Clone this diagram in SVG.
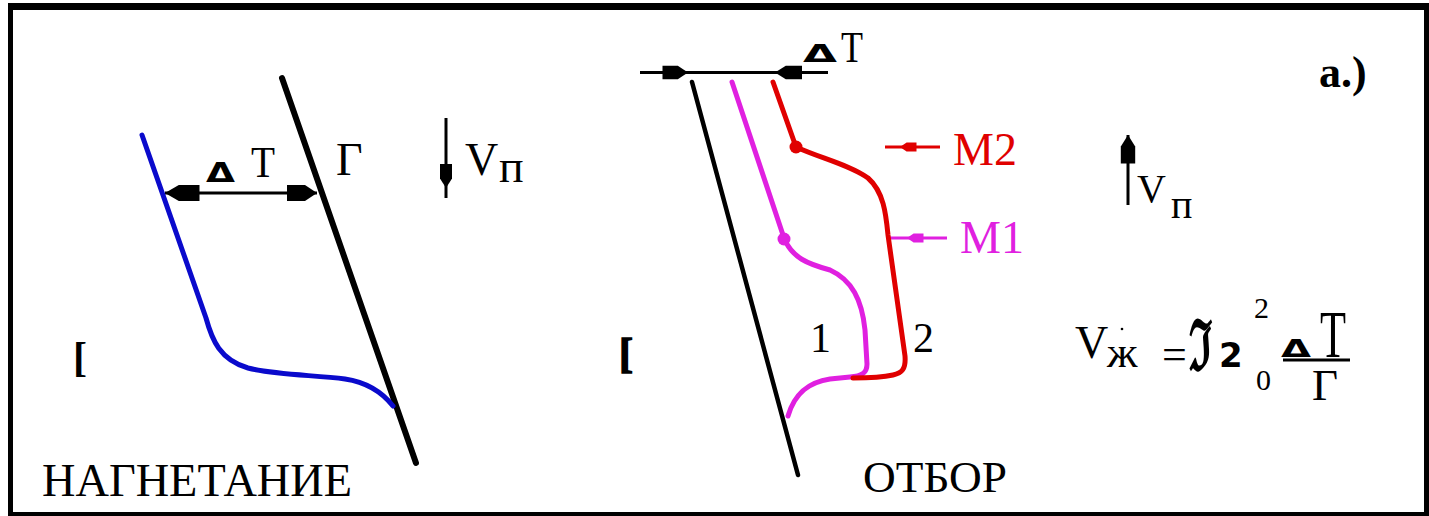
<svg xmlns="http://www.w3.org/2000/svg" width="1429" height="516" viewBox="0 0 1429 516">
<style>
.t{fill:#000}
.red{fill:#e00000}
.mag{fill:#e020e0}
.ln{fill:none;stroke-linecap:round;stroke-linejoin:round}
</style>
<defs>
<path id="head" d="M0,0 L-12,-8 L-30,-8 L-30,8 L-12,8 Z"/>
</defs>
<rect width="1429" height="516" fill="#fff"/>
<g id="frame" stroke="#000">
<line x1="8" y1="6.5" x2="1429" y2="6.5" stroke-width="7"/>
<line x1="10.5" y1="4" x2="10.5" y2="516" stroke-width="5"/>
<line x1="8" y1="514" x2="1429" y2="514" stroke-width="4"/>
<line x1="1426.5" y1="4" x2="1426.5" y2="516" stroke-width="5"/>
</g>
<g id="connectors">
<line x1="165" y1="193" x2="317" y2="193" stroke="#000" stroke-width="3"/>
<use href="#head" transform="translate(165,193) rotate(180) scale(1.15,1)"/>
<use href="#head" transform="translate(317,193) scale(1,1)"/>
<line x1="446" y1="118" x2="446" y2="198" stroke="#000" stroke-width="3"/>
<use href="#head" transform="translate(446,188) rotate(90) scale(0.8,0.75)"/>
<line x1="640" y1="72.5" x2="828" y2="72.5" stroke="#000" stroke-width="3"/>
<use href="#head" transform="translate(688,72.5) scale(0.85,0.85)"/>
<use href="#head" transform="translate(775,72.5) rotate(180) scale(0.9,0.85)"/>
<line x1="1128" y1="135" x2="1128" y2="205" stroke="#000" stroke-width="3"/>
<use href="#head" transform="translate(1128,135) rotate(-90) scale(0.95,0.9)"/>
<line x1="885" y1="147" x2="940" y2="147" stroke="#e00000" stroke-width="3"/>
<use href="#head" transform="translate(900,147) rotate(180) scale(0.55,0.55)" fill="#e00000"/>
<line x1="890" y1="238" x2="947" y2="238" stroke="#e020e0" stroke-width="3"/>
<use href="#head" transform="translate(907,238) rotate(180) scale(0.55,0.55)" fill="#e020e0"/>
</g>
<g id="left-panel" font-family="'Liberation Serif','DejaVu Serif','Times New Roman',serif">
<line x1="282" y1="78" x2="416" y2="463" stroke="#000" stroke-width="6" stroke-linecap="round"/>
<path class="ln" stroke="#0a0acc" stroke-width="5" d="M142,135 L206,318 C212,340 220,360 248,368 C275,375 315,375 345,379 C365,382 382,392 393,406"/>
<text class="t" x="206" y="182" font-size="27" font-weight="bold" textLength="29" lengthAdjust="spacingAndGlyphs" font-family="'DejaVu Sans',sans-serif">Δ</text>
<text class="t" x="251" y="177" font-size="44" textLength="24" lengthAdjust="spacingAndGlyphs">T</text>
<text class="t" x="336" y="175" font-size="46">Г</text>
<text class="t" x="465" y="175" font-size="46">V</text>
<text class="t" x="499" y="182" font-size="46">п</text>
<text class="t" x="73" y="371" font-size="42" font-weight="bold">[</text>
<text class="t" x="42" y="496" font-size="46" textLength="310" lengthAdjust="spacingAndGlyphs">НАГНЕТАНИЕ</text>
</g>
<g id="right-panel" font-family="'Liberation Serif','DejaVu Serif','Times New Roman',serif">
<line x1="692" y1="82" x2="798" y2="475" stroke="#000" stroke-width="4.5" stroke-linecap="round"/>
<path class="ln" stroke="#e020e0" stroke-width="5" d="M732,82 L784,238 C792,258 808,264 830,270 C852,280 862,300 865,330 L867,364 C867,373 862,376 850,377 L830,379 C810,382 795,392 788,416"/>
<path class="ln" stroke="#e00000" stroke-width="5" d="M773,82 L796,147 C820,158 850,165 868,178 C884,192 886,215 888,235 L905,356 C906,369 902,373 893,375 C880,378 866,378 853,378"/>
<circle cx="796" cy="147" r="6.5" fill="#e00000"/>
<circle cx="784" cy="239" r="6.5" fill="#e020e0"/>
<text class="t" x="803" y="62" font-size="24" font-weight="bold" textLength="34" lengthAdjust="spacingAndGlyphs" font-family="'DejaVu Sans',sans-serif">Δ</text>
<text class="t" x="841" y="62" font-size="44" textLength="22" lengthAdjust="spacingAndGlyphs">T</text>
<text class="t red" x="953" y="165" font-size="46">M2</text>
<text class="t mag" x="960" y="253" font-size="46">M1</text>
<text class="t" x="810" y="352" font-size="42">1</text>
<text class="t" x="913" y="352" font-size="42">2</text>
<text class="t" x="619" y="367" font-size="42" font-weight="900" stroke="#000" stroke-width="1.5">[</text>
<text class="t" x="863" y="492" font-size="45" textLength="144" lengthAdjust="spacingAndGlyphs">ОТБОР</text>
<text class="t" x="1137" y="202" font-size="40">V</text>
<text class="t" x="1171" y="218" font-size="40">п</text>
<text class="t" x="1319" y="87" font-size="44" font-weight="bold">a.)</text>
</g>
<g id="formula" font-family="'Liberation Serif','DejaVu Serif','Times New Roman',serif">
<text class="t" x="1075" y="358" font-size="46">V</text>
<text class="t" x="1107" y="367" font-size="44">ж</text>
<circle cx="1122" cy="329" r="1.3" fill="#000"/>
<text class="t" x="1162" y="369" font-size="44">=</text>
<text class="t" x="1189" y="370" font-size="70" font-weight="bold" font-family="'DejaVu Serif',serif" textLength="23" lengthAdjust="spacingAndGlyphs">ℑ</text>
<text class="t" x="1219" y="367" font-size="34" font-weight="bold" font-family="'DejaVu Sans',sans-serif">2</text>
<text class="t" x="1254" y="318" font-size="30">2</text>
<text class="t" x="1256" y="390" font-size="30">0</text>
<text class="t" x="1281" y="357" font-size="24" font-weight="bold" textLength="30" lengthAdjust="spacingAndGlyphs" font-family="'DejaVu Sans',sans-serif">Δ</text>
<text class="t" x="1320" y="357" font-size="68" textLength="26" lengthAdjust="spacingAndGlyphs">T</text>
<line x1="1283" y1="360" x2="1350" y2="360" stroke="#000" stroke-width="3"/>
<text class="t" x="1312" y="400" font-size="45">Г</text>
</g>
</svg>
